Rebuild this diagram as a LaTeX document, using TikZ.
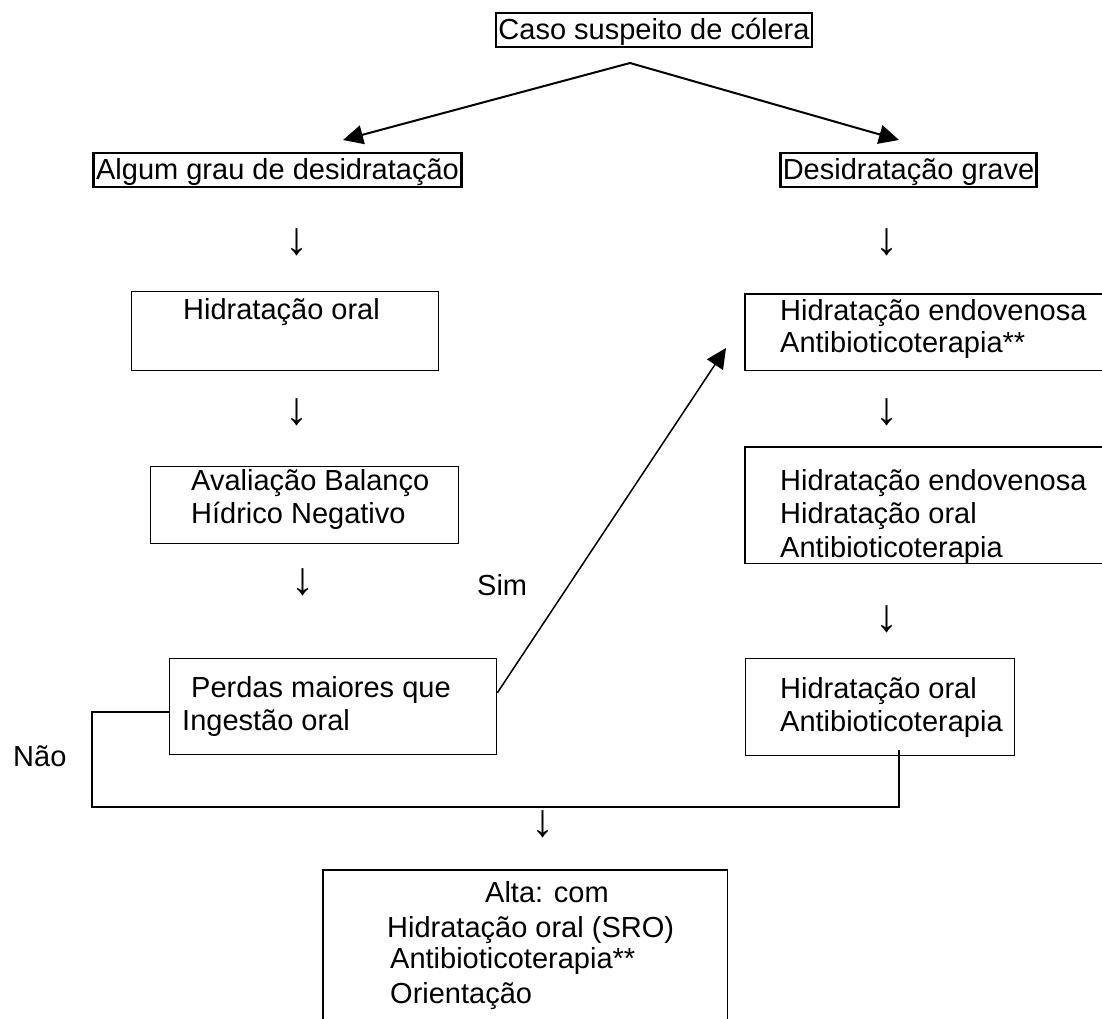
\documentclass[tikz,border=0pt]{standalone}
\usepackage{fontspec}
\setmainfont{Liberation Sans}
\usetikzlibrary{arrows.meta}
\begin{document}
\begin{tikzpicture}[x=1pt,y=-1pt,
  font=\fontsize{29}{33}\selectfont,
  topbox/.style={draw, line width=2.7pt, inner sep=0pt, minimum height=34pt, text height=24pt, text depth=6pt},
  boxshape/.style={draw, line width=1.4pt, anchor=north west, inner sep=0pt},
  openbox/.style={draw=none, anchor=north west, inner sep=0pt},
  lbl/.style={anchor=base west, inner sep=0pt},
  darr/.style={anchor=base, inner sep=0pt, font=\fontsize{46}{50}\selectfont},
  bigarrow/.style={line width=2pt, -{Triangle[length=20pt,width=19pt]}},
  simarrow/.style={line width=1.5pt, -{Triangle[length=20pt,width=19pt]}},
  loopline/.style={line width=2pt},
  boxedge/.style={line width=1.4pt}
]
\useasboundingbox[fill=white] (0,0) rectangle (1102,1018);

% top row
\node[topbox, minimum width=316pt] (caso) at (654,30) {Caso suspeito de cólera};
\node[topbox, minimum width=368pt] (algum) at (277.5,170) {Algum grau de desidratação};
\node[topbox, minimum width=256pt] (grave) at (908.5,170) {Desidratação grave};

\coordinate (apex) at (630,63);
\coordinate (tipL) at (343,140);
\coordinate (tipR) at (899,140);
\draw[bigarrow] (apex) -- (tipL);
\draw[bigarrow] (apex) -- (tipR);

% left column
\node[darr] (a1) at (297,254) {↓};
\node[boxshape, minimum width=307pt, minimum height=79pt] (hidr) at (131,291) {};
\node[lbl] (hidrt) at (183,319) {Hidratação oral};
\node[darr] (a2) at (297,424) {↓};
\node[boxshape, minimum width=308pt, minimum height=77pt] (aval) at (150,466) {};
\node[lbl] (avalt1) at (191,490) {Avaliação Balanço};
\node[lbl] (avalt2) at (191,523) {Hídrico Negativo};
\node[darr] (a3) at (303,594) {↓};
\node[lbl] (sim) at (477,595) {Sim};
\node[boxshape, minimum width=327pt, minimum height=96pt] (perdas) at (169,658) {};
\node[lbl] (perdast1) at (191,697) {Perdas maiores que};
\node[lbl] (perdast2) at (182,730) {Ingestão oral};
\node[lbl] (nao) at (13,766) {Não};

% right column
\node[darr] (b1) at (887,254) {↓};
\node[openbox, minimum width=362pt, minimum height=76pt] (r1) at (745,294) {};
\draw[boxedge] (r1.north east) -- (r1.north west) -- (r1.south west) -- (r1.south east);
\node[lbl] (r1t1) at (780,320) {Hidratação endovenosa};
\node[lbl] (r1t2) at (780,352) {Antibioticoterapia**};
\node[darr] (b2) at (887,424) {↓};
\node[openbox, minimum width=362pt, minimum height=116pt] (r2) at (745,447) {};
\draw[boxedge] (r2.north east) -- (r2.north west) -- (r2.south west) -- (r2.south east);
\node[lbl] (r2t1) at (780,490) {Hidratação endovenosa};
\node[lbl] (r2t2) at (780,523) {Hidratação oral};
\node[lbl] (r2t3) at (780,557) {Antibioticoterapia};
\node[darr] (b3) at (887,631) {↓};
\node[boxshape, minimum width=269pt, minimum height=97pt] (r3) at (745,658) {};
\node[lbl] (r3t1) at (780,698) {Hidratação oral};
\node[lbl] (r3t2) at (780,731) {Antibioticoterapia};

% Sim connector
\coordinate (simtip) at (726,348);
\draw[simarrow] ([yshift=14pt]perdas.east) -- (simtip);

% Nao loop
\coordinate (loopL) at (92,807);
\coordinate (loopR) at (899,807);
\draw[loopline] ([yshift=-5pt]perdas.west) -| (loopL) -- (loopR) -- ([yshift=6pt]loopR |- r3.south);

% bottom
\node[darr] (c1) at (543,836) {↓};
\node[openbox, minimum width=404pt, minimum height=155pt] (alta) at (323,870) {};
\draw[boxedge] (alta.south west) -- (alta.north west) -- (alta.north east) -- (alta.south east);
\node[lbl] (altat1) at (485,902) {Alta: com};
\node[lbl] (altat2) at (387,937) {Hidratação oral (SRO)};
\node[lbl] (altat3) at (390,968) {Antibioticoterapia**};
\node[lbl] (altat4) at (390,1003) {Orientação};
\end{tikzpicture}
\end{document}
